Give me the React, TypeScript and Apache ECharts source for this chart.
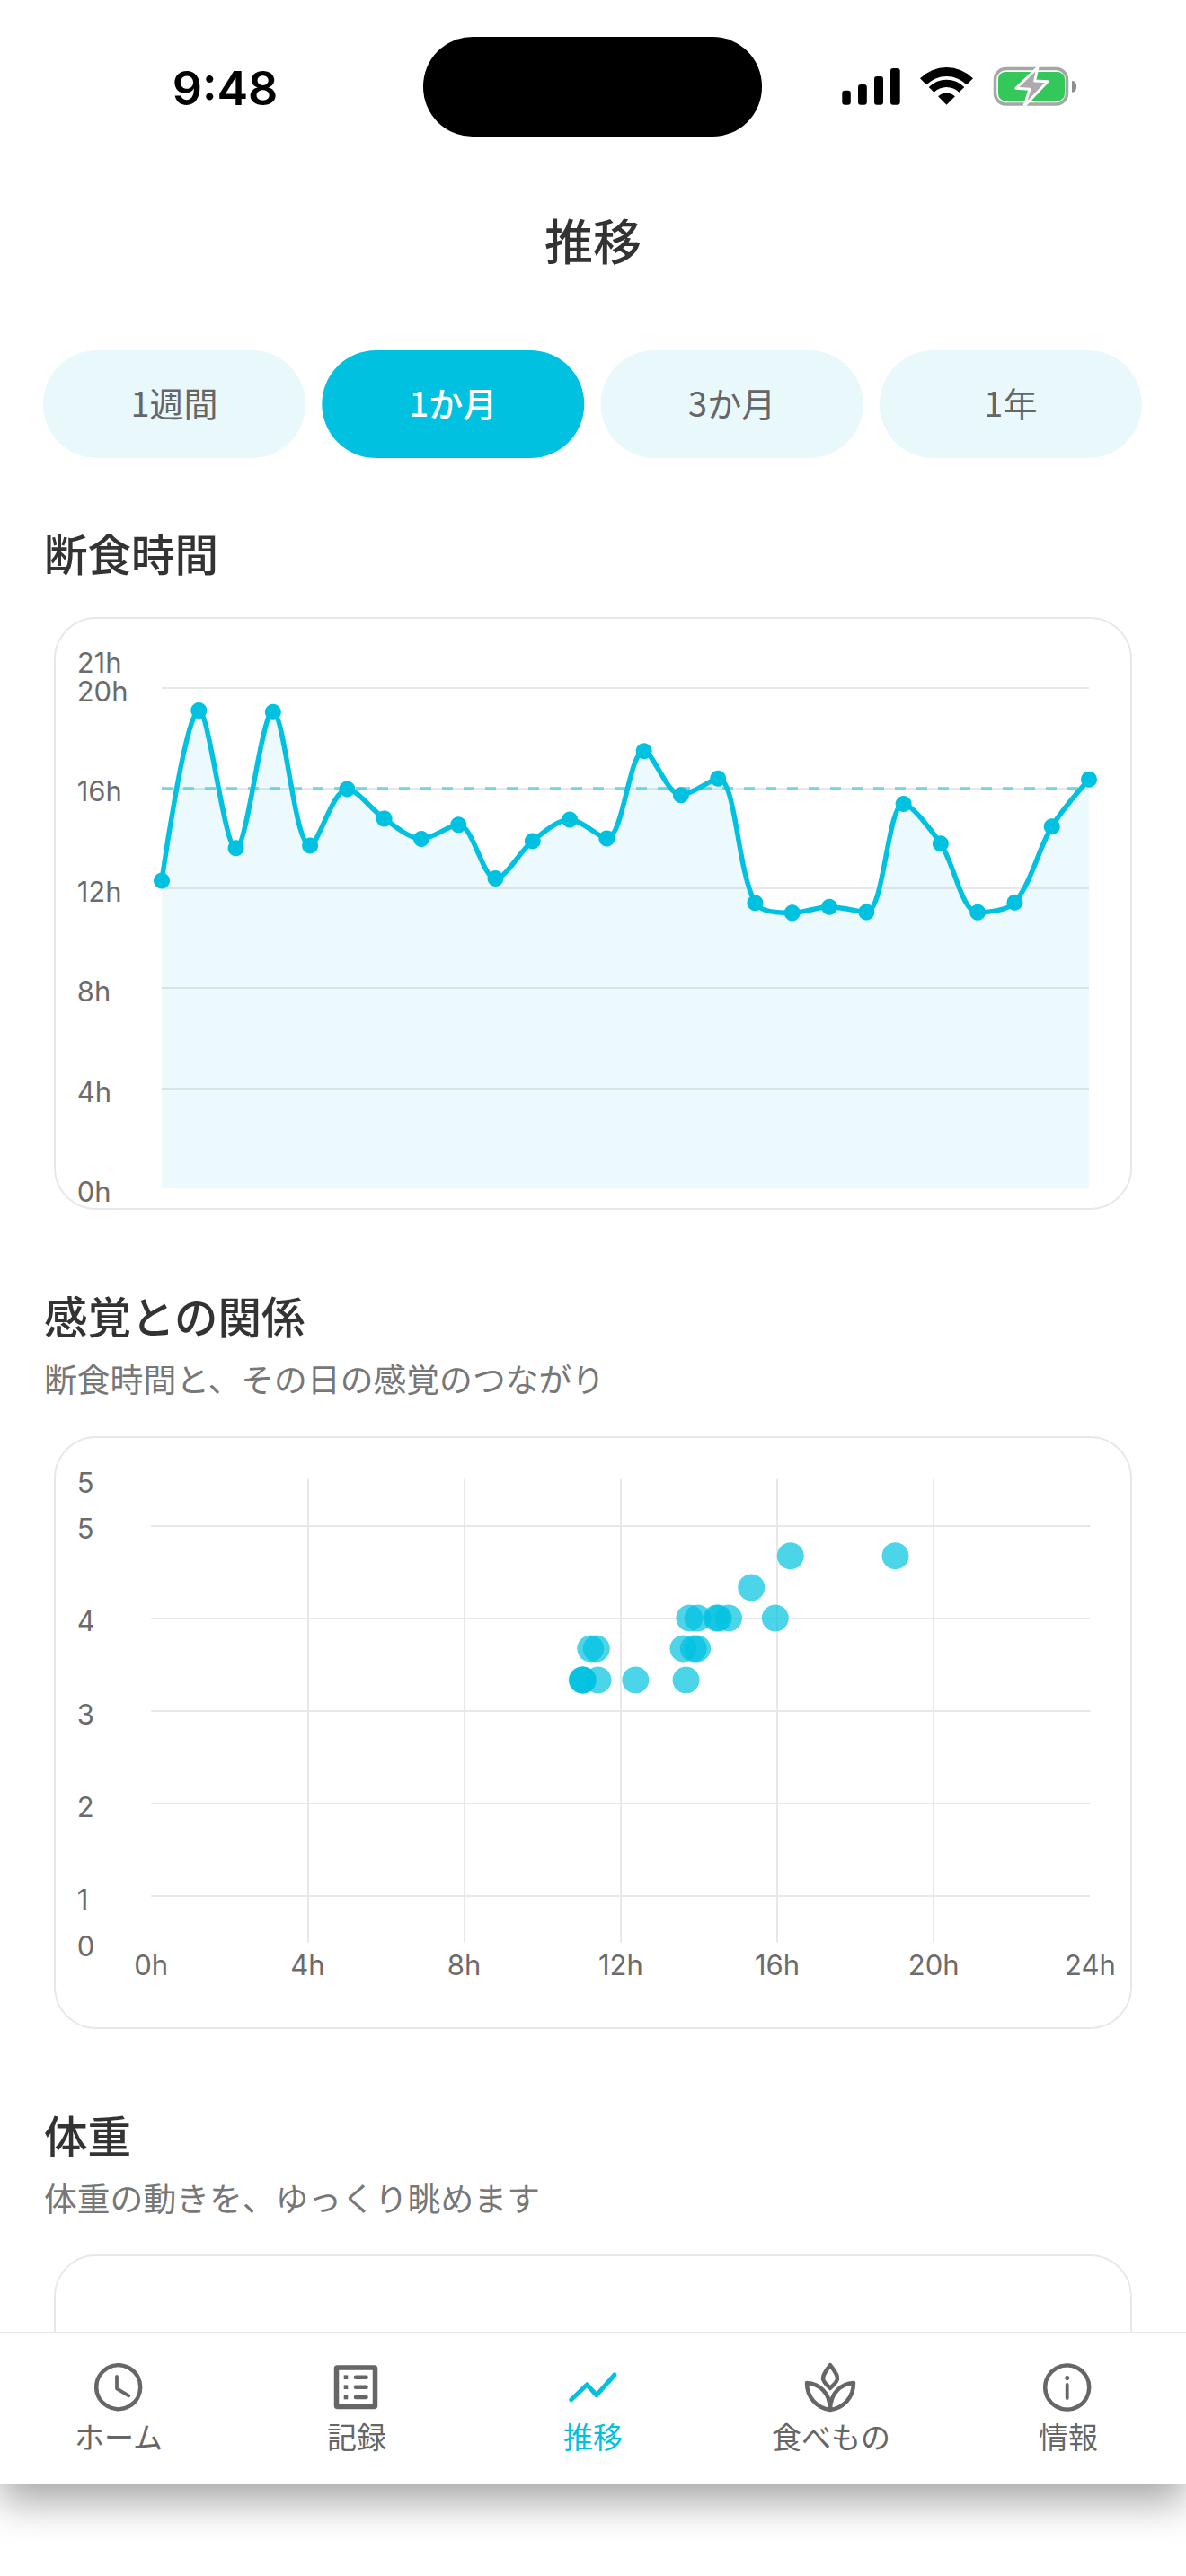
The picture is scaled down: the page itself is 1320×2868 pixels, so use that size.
import { useEffect, useRef } from 'react';
import * as echarts from 'echarts';

// 断食時間 (hours per day over the month)
const fastingHours = [12.3, 19.1, 13.6, 19.04, 13.7, 15.96, 14.78, 13.97, 14.53, 12.39, 13.88, 14.74, 13.99, 17.48, 15.72, 16.38, 11.41, 11.01, 11.25, 11.04, 15.37, 13.78, 11.03, 11.43, 14.46, 16.35];
const fastingDays = fastingHours.map((_, i) => `${i + 1}`);
const fastingGoal = 16;
const fastingGridTicks = [4, 8, 12, 16, 20];
const fastingLabelTicks = [0, 4, 8, 12, 16, 20, 21.16];

// 感覚との関係 (fasting hours vs mood)
const scatterHours = [16.34, 19.02, 15.34, 13.76, 13.97, 14.45, 14.5, 14.76, 15.95, 11.23, 11.38, 13.6, 13.86, 13.96, 11.01, 11.03, 11.04, 11.42, 12.38, 13.67];
const scatterMood = [4.67, 4.67, 4.33, 4, 4, 4, 4, 4, 4, 3.67, 3.67, 3.67, 3.67, 3.67, 3.33, 3.33, 3.33, 3.33, 3.33, 3.33];
const moodGridTicks = [1, 2, 3, 4, 5];
const moodLabelTicks = [0.5, 1, 2, 3, 4, 5, 5.5];

const tabLabels = ['1週間', '1か月', '3か月', '1年'];
const navLabels = ['ホーム', '記録', '推移', '食べもの', '情報'];

const CYAN = '#00C2E0';
const PALE = '#E8F8FB';
const GRID = '#E8E8E8';
const GRAY = '#666666';
const DARK = '#333333';
const JP = '"Noto Sans CJK JP"';

echarts.graphic.registerShape('plant', echarts.graphic.extendPath(
    'M2 22 C15 23 28 32 28 52 C13 50 2 38 2 22 Z M54 22 C41 23 28 32 28 52 C43 50 54 38 54 22 Z M28 2 C32 8 36 12 36 17 C36 21 31 25 28 28 C25 25 20 21 20 17 C20 12 24 8 28 2 Z',
    {}
));

const label = (text: string, x: number, y: number, size: number, fill: string, weight = 400, align = 'left', family = JP, z = 13) => ({
    type: 'text',
    x,
    y,
    z,
    style: {
        text,
        fill,
        fontSize: size,
        fontWeight: weight,
        fontFamily: family,
        align,
        textAlign: align,
        verticalAlign: 'middle',
        textVerticalAlign: 'middle'
    }
});

const bar = (x: number, y: number, w: number, h: number) => ({
    type: 'rect',
    z: 13,
    shape: { x, y, width: w, height: h, r: 3 },
    style: { fill: '#000' }
});

const wifi = (r0: number, r: number) => ({
    type: 'sector',
    z: 13,
    shape: { cx: 1053.5, cy: 116.7, r0, r, startAngle: (-135 * Math.PI) / 180, endAngle: (-45 * Math.PI) / 180, clockwise: true },
    style: { fill: '#000' }
});

const card = (y: number, height: number) => ({
    type: 'rect',
    z: 0,
    shape: { x: 61, y, width: 1198, height, r: 46 },
    style: { fill: 'none', stroke: GRID, lineWidth: 2 }
});

const statusBar = [
    label('9:48', 250.5, 98, 52, '#000', 600, 'center', 'Inter'),
    { type: 'rect', z: 13, shape: { x: 471, y: 41, width: 377, height: 111, r: 55 }, style: { fill: '#000' } },
    bar(937.3, 100.7, 9.5, 16),
    bar(955, 94, 9.8, 22.7),
    bar(973, 85, 10, 31.7),
    bar(991, 76, 10.7, 40.7),
    wifi(31.7, 41.7),
    wifi(19.7, 28),
    wifi(0, 13.3),
    { type: 'rect', z: 13, shape: { x: 1107.5, y: 76.5, width: 80, height: 39.5, r: 12 }, style: { fill: 'none', stroke: '#A6A6A6', lineWidth: 3.5 } },
    { type: 'rect', z: 13, shape: { x: 1111, y: 80, width: 74, height: 32.4, r: 8 }, style: { fill: '#34C759' } },
    { type: 'rect', z: 13, shape: { x: 1193, y: 90, width: 5, height: 12.7, r: [0, 5, 5, 0] }, style: { fill: '#8E8E8E' } },
    {
        type: 'polygon',
        z: 14,
        shape: { points: [[1155, 75], [1130.7, 98.3], [1146, 99.3], [1140, 118.3], [1166, 90.7], [1151.7, 90]] },
        style: { fill: '#ABABAB', stroke: '#fff', lineWidth: 3, lineJoin: 'round' }
    }
];

const tabs = tabLabels.flatMap((text, i) => {
    const x = 48 + i * 310.3;
    const active = i === 1;
    return [
        { type: 'rect', z: 1, shape: { x, y: 390, width: 292, height: 120, r: 60 }, style: { fill: active ? CYAN : PALE } },
        label(text, x + 146, 447, 38, active ? '#fff' : GRAY, active ? 500 : 400, 'center')
    ];
});

const headings = [
    label('推移', 660, 266, 54, DARK, 500, 'center'),
    label('断食時間', 49, 615, 48.5, DARK, 500),
    label('感覚との関係', 49, 1464, 48.5, DARK, 500),
    label('断食時間と、その日の感覚のつながり', 49, 1534, 36.8, '#777777'),
    label('体重', 49, 2376, 48.5, DARK, 500),
    label('体重の動きを、ゆっくり眺めます', 49, 2446, 36.8, '#777777')
];

const stroke = (color: string, lineWidth: number) => ({ fill: 'none', stroke: color, lineWidth, lineCap: 'round', lineJoin: 'round' });

const navIcons = [
    // clock
    { type: 'circle', z: 13, shape: { cx: 131.7, cy: 2657.7, r: 24.5 }, style: stroke(GRAY, 4.5) },
    { type: 'polyline', z: 13, shape: { points: [[130, 2646], [130, 2659.3], [143.3, 2667.3]] }, style: stroke(GRAY, 3.8) },
    // list
    { type: 'rect', z: 13, shape: { x: 374.5, y: 2636, width: 43, height: 43.5, r: 1 }, style: stroke(GRAY, 5.5) },
    ...[2646.7, 2657.7, 2669].flatMap(y => [
        { type: 'rect', z: 13, shape: { x: 382.7, y: y - 2.3, width: 4.6, height: 4.6 }, style: { fill: GRAY } },
        { type: 'line', z: 13, shape: { x1: 396, y1: y, x2: 407.5, y2: y }, style: stroke(GRAY, 4.6) }
    ]),
    // trend
    { type: 'polyline', z: 13, shape: { points: [[635.7, 2671.7], [653.3, 2655], [664, 2666.7], [684, 2644]] }, style: stroke(CYAN, 5) },
    // plant
    { type: 'plant', z: 13, x: 896, y: 2631, style: { fill: 'none', stroke: GRAY, lineWidth: 4.5, lineJoin: 'round' } },
    // info
    { type: 'circle', z: 13, shape: { cx: 1187.7, cy: 2658, r: 24.5 }, style: stroke(GRAY, 4.5) },
    { type: 'circle', z: 13, shape: { cx: 1187.7, cy: 2647.5, r: 2.6 }, style: { fill: GRAY } },
    { type: 'line', z: 13, shape: { x1: 1187.7, y1: 2655, x2: 1187.7, y2: 2670 }, style: stroke(GRAY, 3.8) }
];

const navCenters = [132, 397, 660, 925, 1189];
const nav = [
    { type: 'rect', z: 10, shape: { x: 0, y: 2597, width: 1320, height: 271 }, style: { fill: '#fff' } },
    {
        type: 'rect',
        z: 11,
        shape: { x: 0, y: 2690, width: 1320, height: 76 },
        style: { fill: '#fff', shadowBlur: 44, shadowOffsetY: 20, shadowColor: 'rgba(0,0,0,0.34)' }
    },
    { type: 'rect', z: 12, shape: { x: 0, y: 2597, width: 1320, height: 169 }, style: { fill: '#fff' } },
    { type: 'line', z: 12, shape: { x1: 0, y1: 2597, x2: 1320, y2: 2597 }, style: { stroke: GRID, lineWidth: 2 } },
    ...navIcons,
    ...navLabels.map((text, i) => label(text, navCenters[i], 2712, 33, i === 2 ? CYAN : GRAY, 400, 'center'))
];

const axisText = { color: '#6B6B6B', fontSize: 31, fontFamily: 'Inter' };
// y labels sit a little under their gridline in the reference
const lowered = { v: { ...axisText, padding: [7, 0, 0, 0] } };

const App = () => {
    const chartRef = useRef<HTMLDivElement | null>(null);

    useEffect(() => {
        document.body.style.margin = '0';
        if (!chartRef.current) return;
        const myChart = echarts.init(chartRef.current, null, { renderer: 'svg' });
        myChart.setOption({
            animation: false,
            backgroundColor: '#fff',
            grid: [
                { left: 180, width: 1032, top: 733.7, height: 589.3 },
                { left: 168.2, width: 1045.2, top: 1646.7, height: 515.9 }
            ],
            xAxis: [
                {
                    gridIndex: 0,
                    type: 'category',
                    data: fastingDays,
                    boundaryGap: false,
                    axisLine: { show: false },
                    axisTick: { show: false },
                    axisLabel: { show: false },
                    splitLine: { show: false }
                },
                {
                    gridIndex: 1,
                    type: 'value',
                    min: 0,
                    max: 24,
                    interval: 4,
                    axisLine: { show: false },
                    axisTick: { show: false },
                    axisLabel: { ...axisText, margin: 9, formatter: (v: number) => `${v}h` },
                    splitLine: { show: true, showMinLine: false, showMaxLine: false, lineStyle: { color: GRID, width: 2 } }
                }
            ],
            yAxis: [
                {
                    gridIndex: 0,
                    type: 'value',
                    min: 0,
                    max: 21.16,
                    axisLine: { show: false },
                    axisTick: { show: false, customValues: fastingGridTicks },
                    axisLabel: {
                        ...axisText,
                        align: 'left',
                        margin: 94.3,
                        rich: lowered,
                        customValues: fastingLabelTicks,
                        showMinLabel: true,
                        showMaxLabel: true,
                        formatter: (v: number) => `{v|${Math.floor(v)}h}`
                    },
                    splitLine: { show: true, lineStyle: { color: GRID, width: 2 } }
                },
                {
                    gridIndex: 1,
                    type: 'value',
                    min: 0.5,
                    max: 5.5,
                    axisLine: { show: false },
                    axisTick: { show: false, customValues: moodGridTicks },
                    axisLabel: {
                        ...axisText,
                        align: 'left',
                        margin: 82.5,
                        rich: lowered,
                        customValues: moodLabelTicks,
                        showMinLabel: true,
                        showMaxLabel: true,
                        formatter: (v: number) => `{v|${Math.floor(v)}}`
                    },
                    splitLine: { show: true, lineStyle: { color: GRID, width: 2 } }
                }
            ],
            series: [
                {
                    type: 'line',
                    xAxisIndex: 0,
                    yAxisIndex: 0,
                    data: fastingHours,
                    smooth: 0.32,
                    symbol: 'circle',
                    symbolSize: 18,
                    showAllSymbol: true,
                    lineStyle: { color: CYAN, width: 5.5 },
                    itemStyle: { color: CYAN },
                    areaStyle: { color: 'rgba(0,194,224,0.075)', opacity: 1 },
                    markLine: {
                        silent: true,
                        symbol: 'none',
                        label: { show: false },
                        lineStyle: { color: 'rgba(0,194,224,0.5)', type: [12, 12], width: 3 },
                        data: [{ yAxis: fastingGoal }]
                    }
                },
                {
                    type: 'scatter',
                    xAxisIndex: 1,
                    yAxisIndex: 1,
                    data: scatterHours.map((h, i) => [h, scatterMood[i]]),
                    symbolSize: 30,
                    itemStyle: { color: CYAN, opacity: 0.7 }
                }
            ],
            graphic: {
                elements: [
                    card(688, 658),
                    card(1600, 658),
                    card(2511, 300),
                    ...statusBar,
                    ...headings,
                    ...tabs,
                    ...nav
                ]
            }
        });
        return () => myChart.dispose();
    }, []);

    return <div ref={chartRef} style={{ position: 'absolute', left: 0, top: 0, width: 1320, height: 2868 }} />;
};

export default App;
